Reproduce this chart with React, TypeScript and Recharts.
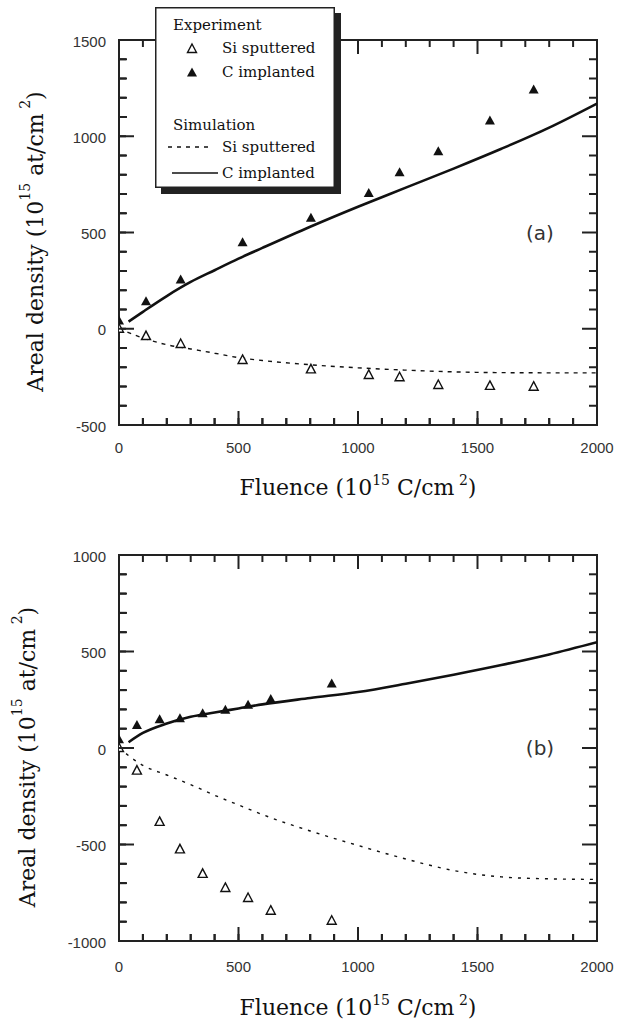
import { ComposedChart, Line, Scatter, XAxis, YAxis, Legend, Label, ReferenceArea } from "recharts";

// panel (a) experiment
const topFluence = [0, 113, 258, 517, 803, 1045, 1174, 1336, 1552, 1735];
const topSiSputtered = [0, -38, -79, -162, -211, -240, -252, -292, -297, -301];
const topCImplanted = [40, 140, 253, 447, 574, 703, 811, 920, 1079, 1240];

// panel (a) simulation
const topSimSiFluence = [0, 100, 200, 300, 400, 500, 600, 800, 1000, 1200, 1400, 1600, 1800, 2000];
const topSimSi = [0, -48, -83, -105, -127, -150, -165, -187, -203, -215, -224, -228, -229, -229];
const topSimCFluence = [40, 100, 200, 300, 400, 500, 600, 800, 1000, 1200, 1400, 1600, 1800, 2000];
const topSimC = [37, 88, 170, 243, 304, 364, 420, 530, 634, 733, 832, 935, 1045, 1170];

// panel (b) experiment
const bottomFluence = [0, 75, 170, 255, 350, 445, 540, 635, 890];
const bottomSiSputtered = [0, -117, -383, -525, -652, -725, -777, -843, -895];
const bottomCImplanted = [43, 117, 147, 152, 178, 195, 221, 251, 331];

// panel (b) simulation
const bottomSimSiFluence = [0, 100, 200, 300, 400, 500, 600, 800, 1000, 1200, 1400, 1600, 1800, 2000];
const bottomSimSi = [0, -90, -140, -190, -245, -295, -345, -430, -505, -575, -635, -668, -678, -681];
const bottomSimCFluence = [40, 100, 200, 300, 400, 500, 600, 800, 1000, 1200, 1400, 1600, 1800, 2000];
const bottomSimC = [30, 78, 127, 162, 184, 205, 226, 259, 290, 333, 380, 430, 485, 548];

const xTicks = [0, 100, 200, 300, 400, 500, 600, 700, 800, 900, 1000, 1100, 1200, 1300, 1400, 1500, 1600, 1700, 1800, 1900, 2000];
const topYTicks = [-500, -400, -300, -200, -100, 0, 100, 200, 300, 400, 500, 600, 700, 800, 900, 1000, 1100, 1200, 1300, 1400, 1500];
const bottomYTicks = [-1000, -900, -800, -700, -600, -500, -400, -300, -200, -100, 0, 100, 200, 300, 400, 500, 600, 700, 800, 900, 1000];

const zip = (f: number[], v: number[]) => f.map((x, i) => ({ f: x, v: v[i] }));

const AXIS = "#222";
const INK = "#111";
const serif = "DejaVu Serif";
const tickFont = { fontFamily: "Liberation Sans", fontSize: 15, fill: "#333" };
const PLOT_W = 478;
const MINOR = 7;

const isMajor = (v: number) => v % 500 === 0;

// bottom tick also draws the matching inward tick on the top frame
const makeBottomTick = (labelDy: number, plotH: number) => (p: any) => {
  const len = isMajor(p.payload.value) ? 14 : 7;
  return (
    <g>
      <line x1={p.x} x2={p.x} y1={p.y} y2={p.y - len} stroke={AXIS} strokeWidth={2} />
      <line x1={p.x} x2={p.x} y1={p.y - plotH} y2={p.y - plotH + len} stroke={AXIS} strokeWidth={2} />
      {isMajor(p.payload.value) && (
        <text x={p.x} y={p.y + labelDy} textAnchor="middle" {...tickFont}>{p.payload.value}</text>
      )}
    </g>
  );
};

// left tick also draws the matching inward tick on the right frame
const leftTick = (p: any) => {
  const len = isMajor(p.payload.value) ? 15 : 8;
  return (
    <g>
      <line x1={p.x} x2={p.x + len} y1={p.y} y2={p.y} stroke={AXIS} strokeWidth={2} />
      <line x1={p.x + PLOT_W} x2={p.x + PLOT_W - len} y1={p.y} y2={p.y} stroke={AXIS} strokeWidth={2} />
      {isMajor(p.payload.value) && (
        <text x={p.x - 13} y={p.y + 1} textAnchor="end" dominantBaseline="central" {...tickFont}>{p.payload.value}</text>
      )}
    </g>
  );
};

const FilledTriangle = (p: any) => (
  <path d={`M${p.cx},${p.cy - 5.5} L${p.cx + 5},${p.cy + 3.5} L${p.cx - 5},${p.cy + 3.5} Z`} fill={INK} />
);
const OpenTriangle = (p: any) => (
  <path d={`M${p.cx},${p.cy - 5} L${p.cx + 4.5},${p.cy + 3.5} L${p.cx - 4.5},${p.cy + 3.5} Z`} fill="#fff" stroke={INK} strokeWidth={1.4} />
);

const xTitle = (dy: number) => (props: any) => {
  const vb = props.viewBox;
  return (
    <text x={vb.x + vb.width / 2} y={vb.y + dy} textAnchor="middle" fontFamily={serif} fontSize={22} fill={INK}>
      <tspan>Fluence (10</tspan>
      <tspan dy={-10} fontSize={14}>15</tspan>
      <tspan dy={10}> C/cm</tspan>
      <tspan dy={-10} fontSize={14}> 2</tspan>
      <tspan dy={10}>)</tspan>
    </text>
  );
};

const yTitle = (dx: number) => (props: any) => {
  const vb = props.viewBox;
  const cx = vb.x + vb.width - dx;
  const cy = vb.y + vb.height / 2 + 9;
  return (
    <text x={cx} y={cy} transform={`rotate(-90 ${cx} ${cy})`} textAnchor="middle" dominantBaseline="central" fontFamily={serif} fontSize={22} fill={INK}>
      <tspan>Areal density (10</tspan>
      <tspan dy={-10} fontSize={14}>15</tspan>
      <tspan dy={10}> at/cm</tspan>
      <tspan dy={-10} fontSize={14}> 2</tspan>
      <tspan dy={10}>)</tspan>
    </text>
  );
};

const panelTag = (tag: string) => (props: any) => {
  const vb = props.viewBox;
  return (
    <text x={vb.x + vb.width - 57} y={vb.y + vb.height / 2} textAnchor="middle" dominantBaseline="central" fontFamily="DejaVu Sans" fontSize={20} fill="#333">
      {tag}
    </text>
  );
};

const legendText = { fontFamily: serif, fontSize: 15, fill: INK, dominantBaseline: "central" as const };

function TopLegend() {
  return (
    <svg width={188} height={190} style={{ display: "block" }}>
      <rect x={6} y={6} width={180} height={181} fill="#222" />
      <rect x={0.75} y={0.75} width={178.5} height={179.5} fill="#fff" stroke="#222" strokeWidth={1.5} />
      <text x={18} y={18} {...legendText}>Experiment</text>
      <OpenTriangle cx={37} cy={42} />
      <text x={67} y={41} {...legendText}>Si sputtered</text>
      <FilledTriangle cx={37} cy={66} />
      <text x={67} y={65} {...legendText}>C implanted</text>
      <text x={18} y={118} {...legendText}>Simulation</text>
      <line x1={13} x2={55} y1={140} y2={140} stroke={INK} strokeWidth={1.3} strokeDasharray="4 5" />
      <text x={67} y={140} {...legendText}>Si sputtered</text>
      <line x1={17} x2={63} y1={166} y2={166} stroke={INK} strokeWidth={1.5} />
      <text x={67} y={166} {...legendText}>C implanted</text>
    </svg>
  );
}

type Pt = { f: number; v: number };

function Panel({
  height, margin, yDomain, yTicks, xLabelDy, xTitleDy, yTitleDx, tag, exp, sim, dash, legend,
}: {
  height: number;
  margin: { top: number; right: number; bottom: number; left: number };
  yDomain: [number, number];
  yTicks: number[];
  xLabelDy: number;
  xTitleDy: number;
  yTitleDx: number;
  tag: string;
  exp: { si: Pt[]; c: Pt[] };
  sim: { si: Pt[]; c: Pt[] };
  dash: string;
  legend?: boolean;
}) {
  // bottom/left axes are 1px thick so that they still render; margins absorb that pixel
  const m = { top: margin.top, right: margin.right, bottom: margin.bottom - 1, left: margin.left - 1 };
  const plotH = height - margin.top - margin.bottom;
  return (
    <ComposedChart width={618} height={height} margin={m}>
      {/* negative tickSize points the native tick marks inward; tickMargin puts the label anchor back on the axis */}
      <XAxis
        dataKey="f" type="number" domain={[0, 2000]} ticks={xTicks} interval={0} allowDataOverflow
        height={1} tickSize={-MINOR} tickMargin={MINOR} stroke={AXIS}
        tickLine={{ stroke: AXIS, strokeWidth: 2 }} axisLine={false}
        tick={makeBottomTick(xLabelDy, plotH)}
      >
        <Label content={xTitle(xTitleDy)} />
      </XAxis>
      <YAxis
        dataKey="v" type="number" domain={yDomain} ticks={yTicks} interval={0} allowDataOverflow
        width={1} tickSize={-MINOR} tickMargin={MINOR} stroke={AXIS}
        tickLine={{ stroke: AXIS, strokeWidth: 2 }} axisLine={false}
        tick={leftTick}
      >
        <Label content={yTitle(yTitleDx)} />
      </YAxis>
      <ReferenceArea x1={0} x2={2000} y1={yDomain[0]} y2={yDomain[1]} fill="none" fillOpacity={0}
        stroke={AXIS} strokeWidth={2} strokeOpacity={1}>
        <Label content={panelTag(tag)} />
      </ReferenceArea>
      <Line data={sim.si} dataKey="v" name="Si sputtered (sim)" type="monotone" stroke={INK} strokeWidth={1.4}
        strokeDasharray={dash} dot={false} activeDot={false} isAnimationActive={false} />
      <Line data={sim.c} dataKey="v" name="C implanted (sim)" type="monotone" stroke={INK} strokeWidth={2.6}
        dot={false} activeDot={false} isAnimationActive={false} />
      <Scatter data={exp.si} dataKey="v" name="Si sputtered" shape={OpenTriangle} isAnimationActive={false} />
      <Scatter data={exp.c} dataKey="v" name="C implanted" shape={FilledTriangle} isAnimationActive={false} />
      {legend && (
        <Legend content={TopLegend} layout="horizontal" verticalAlign="middle" align="center"
          wrapperStyle={{ left: 155, top: 7, width: 188, height: 190 }} />
      )}
    </ComposedChart>
  );
}

export default function App() {
  return (
    <div style={{ position: "absolute", left: 0, top: 0, width: 618, height: 1029, background: "#fff" }}>
      <div style={{ position: "absolute", left: 0, top: 0 }}>
        <Panel
          height={520}
          margin={{ top: 40, right: 21, bottom: 95, left: 119 }}
          yDomain={[-500, 1500]}
          yTicks={topYTicks}
          xLabelDy={28}
          xTitleDy={70}
          yTitleDx={84}
          tag="(a)"
          exp={{ si: zip(topFluence, topSiSputtered), c: zip(topFluence, topCImplanted) }}
          sim={{ si: zip(topSimSiFluence, topSimSi), c: zip(topSimCFluence, topSimC) }}
          dash="4 5"
          legend
        />
      </div>
      <div style={{ position: "absolute", left: 0, top: 520 }}>
        <Panel
          height={509}
          margin={{ top: 35, right: 21, bottom: 88, left: 119 }}
          yDomain={[-1000, 1000]}
          yTicks={bottomYTicks}
          xLabelDy={31}
          xTitleDy={74}
          yTitleDx={92}
          tag="(b)"
          exp={{ si: zip(bottomFluence, bottomSiSputtered), c: zip(bottomFluence, bottomCImplanted) }}
          sim={{ si: zip(bottomSimSiFluence, bottomSimSi), c: zip(bottomSimCFluence, bottomSimC) }}
          dash="3 6"
        />
      </div>
    </div>
  );
}
